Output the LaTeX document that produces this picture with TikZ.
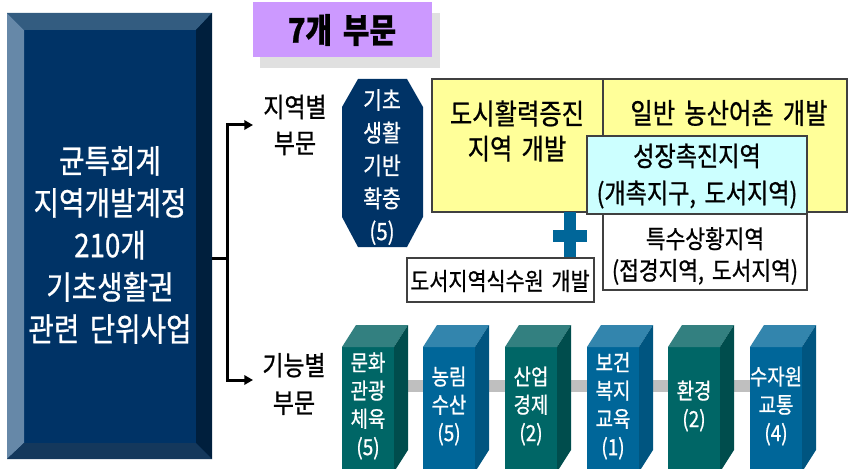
\documentclass[tikz,border=0pt]{standalone}
\usepackage{fontspec}
\usetikzlibrary{arrows.meta}
\newfontfamily\kr[FakeStretch=0.85,FakeBold=0.8]{Noto Sans CJK KR}
\definecolor{navy}{RGB}{0,51,102}
\definecolor{bevelL}{RGB}{102,136,168}
\definecolor{bevelT}{RGB}{51,92,128}
\definecolor{bevelR}{RGB}{0,31,61}
\definecolor{bevelB}{RGB}{20,56,92}
\definecolor{lilac}{RGB}{204,153,255}
\definecolor{lemon}{RGB}{255,255,153}
\definecolor{aqua}{RGB}{204,255,255}
\definecolor{plusblue}{RGB}{0,102,153}
\definecolor{grnF}{RGB}{0,102,102}
\definecolor{grnT}{RGB}{51,128,128}
\definecolor{grnS}{RGB}{0,77,77}
\definecolor{bluF}{RGB}{0,102,153}
\definecolor{bluT}{RGB}{51,133,173}
\definecolor{bluS}{RGB}{0,85,128}
\newcommand\krsize[2]{\kr\fontsize{#1}{#2}\selectfont\spaceskip=0.32em plus 0.1em}
\tikzset{
  txt/.style = {align=center, inner sep=0pt, text=black},
  boxline/.style = {draw=black!75, line width=0.35mm},
  branch/.style = {line width=0.9mm, -{Triangle[length=2.6mm,width=2.8mm]}},
}
\begin{document}
\begin{tikzpicture}[x=0.3mm, y=-0.3mm]
  \useasboundingbox (0,0) rectangle (848,469);
  % left beveled box
  \fill[navy] (7,13) rectangle (212,459);
  \fill[bevelL] (7,13) -- (24,30) -- (24,443) -- (7,459) -- cycle;
  \fill[bevelT] (7,13) -- (212,13) -- (196,30) -- (24,30) -- cycle;
  \fill[bevelR] (212,13) -- (212,459) -- (196,443) -- (196,30) -- cycle;
  \fill[bevelB] (7,459) -- (24,443) -- (196,443) -- (212,459) -- cycle;
  \node[txt, text=white, font=\krsize{27.8}{35.9}] (fund) at (110,245)
    {균특회계\\지역개발계정\\210개\\기초생활권\\관련 단위사업};
  \coordinate (fundR) at (212,258);
  % title tag
  \fill[black!12] (260,13) rectangle (440,68);
  \fill[lilac] (253,2) rectangle (432,57);
  \node[txt, font=\krsize{29}{30}\bfseries] (title) at (342,30) {7개 부문};
  % branches
  \coordinate (fork) at (227,258);
  \coordinate (forkT) at (227,125);
  \coordinate (forkB) at (227,380);
  \node[txt, font=\krsize{23}{30.7}] (area) at (295,125) {지역별\\부문};
  \node[txt, font=\krsize{23}{32}] (func) at (294,384) {기능별\\부문};
  \coordinate (areaIn) at (253,125);
  \coordinate (funcIn) at (253,380);
  \draw[line width=0.9mm] (fundR) -- (fork);
  \draw[branch] (fork) -- (forkT) -- (areaIn);
  \draw[branch] (fork) -- (forkB) -- (funcIn);
  % octagon
  \fill[navy] (358,79) -- (407,79) -- (423,107) -- (423,217) -- (407,247)
    -- (358,247) -- (342,217) -- (342,107) -- cycle;
  \node[txt, text=white, font=\krsize{20.5}{28}] (basic) at (382,167)
    {기초\\생활\\기반\\확충\\(5)};
  % regional boxes
  \fill[lemon] (432,79) rectangle (847,212);
  \draw[boxline] (432,79) rectangle (847,212) (603,79) -- (603,212);
  \node[txt, font=\krsize{24.4}{30}] (urban) at (517,131) {도시활력증진\\지역 개발};
  \node[txt, font=\krsize{24.4}{30}] (rural) at (729,113) {일반 농산어촌 개발};
  \fill[white] (603,214) rectangle (807,290);
  \draw[boxline] (603,214) rectangle (807,290);
  \node[txt, font=\krsize{21.5}{27}] (special) at (705,256) {특수상황지역\\(접경지역, 도서지역)};
  \fill[aqua] (587,136) rectangle (807,214);
  \draw[boxline] (587,136) rectangle (807,214);
  \node[txt, font=\krsize{23.2}{31.6}] (growth) at (697,176) {성장촉진지역\\(개촉지구, 도서지역)};
  % plus
  \fill[plusblue] (564,212) rectangle (576,258);
  \fill[plusblue] (553,230) rectangle (587,242);
  \fill[white] (407,258) rectangle (594,302);
  \draw[boxline] (407,258) rectangle (594,302);
  \node[txt, font=\krsize{20.8}{24}] (water) at (500,281) {도서지역식수원 개발};
  % functional blocks
  \fill[black!25] (393,380) rectangle (760,392);
  \foreach \x/\c/\t [count=\i] in {342/grn/{문화\\관광\\체육\\(5)}, 423/blu/{농림\\수산\\(5)},
      505/grn/{산업\\경제\\(2)}, 587/blu/{보건\\복지\\교육\\(1)},
      668/grn/{환경\\(2)}, 750/blu/{수자원\\교통\\(4)}} {
    \fill[\c F] (\x,347) rectangle ++(52,125);
    \fill[\c T] (\x,347) -- ++(14,-22) -- ++(52,0) -- ++(-14,22) -- cycle;
    \fill[\c S] (\x+52,347) -- ++(14,-22) -- ++(0,125) -- ++(-14,22) -- cycle;
    \node[txt, text=white, font=\krsize{19}{24}] (blk\i) at (\x+26,406) {\t};
  }
\end{tikzpicture}
\end{document}
